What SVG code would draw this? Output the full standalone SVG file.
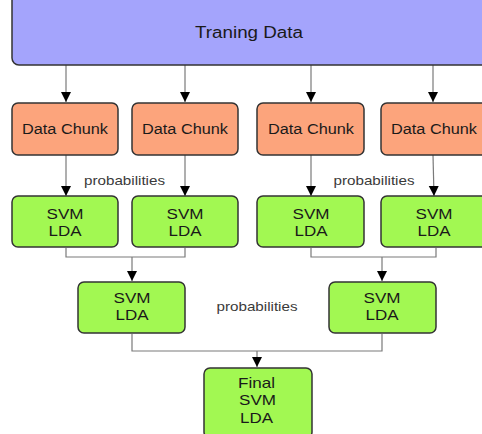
<svg xmlns="http://www.w3.org/2000/svg" width="482" height="434" viewBox="0 0 482 434">
  <defs>
    <marker id="arrow" viewBox="0 0 10 10" refX="10" refY="5" markerWidth="10" markerHeight="11" markerUnits="userSpaceOnUse" orient="auto">
      <path d="M0,0 L10,5 L0,10 Z" fill="#000"/>
    </marker>
    <style>
      .box { stroke: #333; stroke-width: 1.5; }
      .src { fill: #a4a4fc; }
      .chunk { fill: #fca47c; }
      .model { fill: #a2f852; }
      .edge { fill: none; stroke: #7a7a7a; stroke-width: 1.2; }
      .arr { marker-end: url(#arrow); }
      text { font-family: "Liberation Sans", Arial, sans-serif; fill: #1a1a1a; text-anchor: middle; }
      .ttl { font-size: 16px; }
      .lbl { font-size: 14.5px; }
      .chk { font-size: 14px; }
      .note { font-size: 13px; fill: #3a3a3a; }
    </style>
  </defs>

  <rect width="482" height="434" fill="#fff"/>

  <!-- connectors -->
  <g id="connectors">
    <line class="edge arr" x1="66" y1="65" x2="66" y2="102"/>
    <line class="edge arr" x1="185" y1="65" x2="185" y2="102"/>
    <line class="edge arr" x1="311" y1="65" x2="311" y2="102"/>
    <line class="edge arr" x1="433" y1="65" x2="433" y2="102"/>

    <line class="edge arr" x1="66" y1="155" x2="66" y2="196"/>
    <line class="edge arr" x1="185" y1="155" x2="185" y2="196"/>
    <line class="edge arr" x1="311" y1="155" x2="311" y2="196"/>
    <line class="edge arr" x1="433" y1="155" x2="434" y2="196"/>

    <polyline class="edge" points="66,248 66,257 185,257 185,248"/>
    <line class="edge arr" x1="132" y1="257" x2="132" y2="281"/>
    <polyline class="edge" points="311,248 311,257 436,257 436,248"/>
    <line class="edge arr" x1="382" y1="257" x2="382" y2="281"/>

    <polyline class="edge" points="132,334 132,351 382,351 382,334"/>
    <line class="edge arr" x1="257" y1="351" x2="257" y2="367"/>
  </g>

  <g id="training-data">
    <rect class="box src" x="12" y="-10" width="480" height="75" rx="7"/>
    <text class="ttl" x="249" y="37.5" textLength="108" lengthAdjust="spacingAndGlyphs">Traning Data</text>
  </g>

  <g id="chunk-1">
    <rect class="box chunk" x="12" y="103" width="106" height="52" rx="6"/>
    <text class="chk" x="65" y="134" textLength="86" lengthAdjust="spacingAndGlyphs">Data Chunk</text>
  </g>
  <g id="chunk-2">
    <rect class="box chunk" x="132" y="103" width="106" height="52" rx="6"/>
    <text class="chk" x="185" y="134" textLength="86" lengthAdjust="spacingAndGlyphs">Data Chunk</text>
  </g>
  <g id="chunk-3">
    <rect class="box chunk" x="257" y="103" width="107" height="52" rx="6"/>
    <text class="chk" x="311" y="134" textLength="86" lengthAdjust="spacingAndGlyphs">Data Chunk</text>
  </g>
  <g id="chunk-4">
    <rect class="box chunk" x="381" y="103" width="108" height="52" rx="6"/>
    <text class="chk" x="434" y="134" textLength="86" lengthAdjust="spacingAndGlyphs">Data Chunk</text>
  </g>

  <text class="note" x="124.5" y="185" textLength="81" lengthAdjust="spacingAndGlyphs">probabilities</text>
  <text class="note" x="374" y="185" textLength="81" lengthAdjust="spacingAndGlyphs">probabilities</text>
  <text class="note" x="257" y="311" textLength="81" lengthAdjust="spacingAndGlyphs">probabilities</text>

  <g id="model-1">
    <rect class="box model" x="12" y="196" width="106" height="51" rx="6"/>
    <text class="lbl" x="65" y="219" textLength="37" lengthAdjust="spacingAndGlyphs">SVM</text>
    <text class="lbl" x="65" y="236" textLength="33" lengthAdjust="spacingAndGlyphs">LDA</text>
  </g>
  <g id="model-2">
    <rect class="box model" x="132" y="196" width="106" height="51" rx="6"/>
    <text class="lbl" x="185" y="219" textLength="37" lengthAdjust="spacingAndGlyphs">SVM</text>
    <text class="lbl" x="185" y="236" textLength="33" lengthAdjust="spacingAndGlyphs">LDA</text>
  </g>
  <g id="model-3">
    <rect class="box model" x="257" y="196" width="107" height="51" rx="6"/>
    <text class="lbl" x="311" y="219" textLength="37" lengthAdjust="spacingAndGlyphs">SVM</text>
    <text class="lbl" x="311" y="236" textLength="33" lengthAdjust="spacingAndGlyphs">LDA</text>
  </g>
  <g id="model-4">
    <rect class="box model" x="381" y="196" width="108" height="51" rx="6"/>
    <text class="lbl" x="434" y="219" textLength="37" lengthAdjust="spacingAndGlyphs">SVM</text>
    <text class="lbl" x="434" y="236" textLength="33" lengthAdjust="spacingAndGlyphs">LDA</text>
  </g>

  <g id="model-5">
    <rect class="box model" x="78" y="282" width="107" height="51" rx="6"/>
    <text class="lbl" x="132" y="303" textLength="37" lengthAdjust="spacingAndGlyphs">SVM</text>
    <text class="lbl" x="132" y="320" textLength="33" lengthAdjust="spacingAndGlyphs">LDA</text>
  </g>
  <g id="model-6">
    <rect class="box model" x="329" y="282" width="107" height="51" rx="6"/>
    <text class="lbl" x="382" y="303" textLength="37" lengthAdjust="spacingAndGlyphs">SVM</text>
    <text class="lbl" x="382" y="320" textLength="33" lengthAdjust="spacingAndGlyphs">LDA</text>
  </g>

  <g id="final-model">
    <rect class="box model" x="204" y="368" width="108" height="70" rx="6"/>
    <text class="lbl" x="256.5" y="388" textLength="37" lengthAdjust="spacingAndGlyphs">Final</text>
    <text class="lbl" x="257.5" y="405" textLength="37" lengthAdjust="spacingAndGlyphs">SVM</text>
    <text class="lbl" x="256.5" y="422.5" textLength="33" lengthAdjust="spacingAndGlyphs">LDA</text>
  </g>
</svg>
